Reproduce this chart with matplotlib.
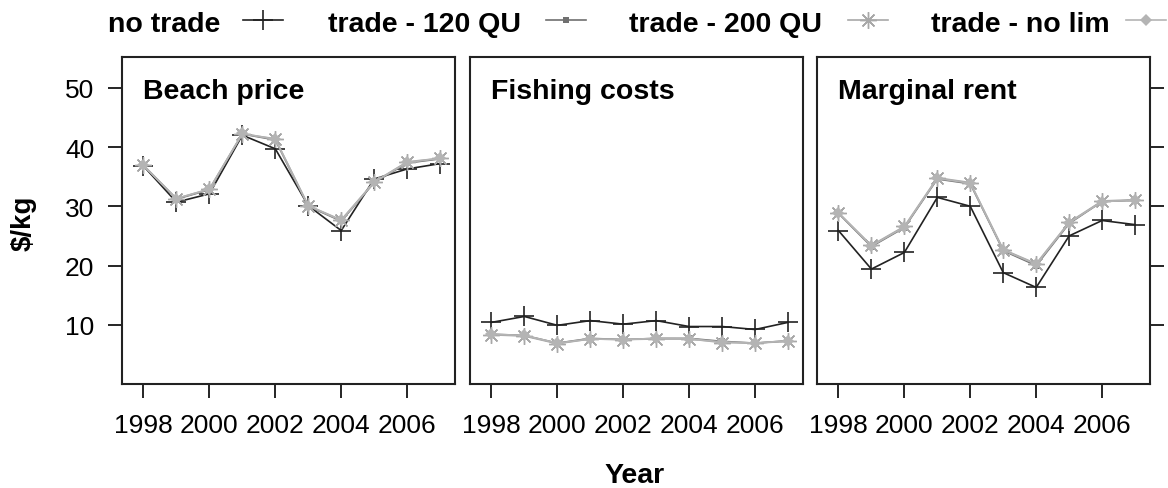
import matplotlib
matplotlib.use("Agg")
import matplotlib.pyplot as plt
from matplotlib.lines import Line2D

years = list(range(1998, 2008))

panels = ["Beach price", "Fishing costs", "Marginal rent"]
series_names = ["no trade", "trade - 120 QU", "trade - 200 QU", "trade - no lim"]

# Beach price
beach_no_trade = [36.8, 30.7, 32.1, 42.0, 39.7, 30.1, 25.9, 34.6, 36.3, 37.2]
beach_120 = [36.9, 31.2, 32.8, 42.2, 41.2, 30.0, 27.5, 34.0, 37.3, 38.0]
beach_200 = [36.9, 31.3, 32.9, 42.2, 41.4, 30.1, 27.7, 34.1, 37.5, 38.1]
beach_nolim = [36.9, 31.3, 32.9, 42.3, 41.3, 30.1, 27.6, 34.1, 37.4, 38.1]

# Fishing costs
cost_no_trade = [10.4, 11.4, 9.9, 10.7, 10.1, 10.7, 9.7, 9.7, 9.2, 10.4]
cost_120 = [8.4, 8.2, 6.9, 7.7, 7.5, 7.7, 7.7, 7.2, 6.9, 7.3]
cost_200 = [8.3, 8.1, 6.8, 7.6, 7.5, 7.6, 7.6, 7.0, 6.9, 7.2]
cost_nolim = [8.4, 8.2, 6.9, 7.6, 7.5, 7.7, 7.6, 7.1, 6.9, 7.3]

# Marginal rent
rent_no_trade = [25.9, 19.4, 22.2, 31.5, 30.0, 18.8, 16.3, 25.0, 27.6, 26.9]
rent_120 = [28.8, 23.2, 26.4, 34.6, 33.8, 22.5, 20.0, 27.1, 30.8, 31.0]
rent_200 = [28.9, 23.4, 26.6, 34.8, 34.0, 22.7, 20.3, 27.3, 30.9, 31.1]
rent_nolim = [28.9, 23.3, 26.5, 34.7, 33.9, 22.6, 20.2, 27.2, 30.8, 31.0]

data = [
    [beach_no_trade, beach_120, beach_200, beach_nolim],
    [cost_no_trade, cost_120, cost_200, cost_nolim],
    [rent_no_trade, rent_120, rent_200, rent_nolim],
]

yticks = [10, 20, 30, 40, 50]
xticks = [1998, 2000, 2002, 2004, 2006]

styles = [
    dict(color="#222222", marker="+", ms=14, mew=1.2, lw=1.2),
    dict(color="#707070", marker="s", ms=5, mew=0, lw=1.2),
    dict(color="#a8a8a8", marker=(8, 2, 0), ms=12, mew=1.0, lw=1.2),
    dict(color="#b4b4b4", marker="D", ms=6, mew=0, lw=1.2),
]

plt.rcParams['font.family'] = ['Liberation Sans', 'DejaVu Sans']

W, H = 1168, 489
fig = plt.figure(figsize=(W / 100, H / 100), dpi=100)
lefts = [0.1045, 0.4024, 0.6995]
for k, name in enumerate(panels):
    ax = fig.add_axes([lefts[k], 0.2127, 0.285, 0.6687])
    for s, vals in enumerate(data[k]):
        ax.plot(years, vals, **styles[s])
    ax.set_xlim(1997.35, 2007.45)
    ax.set_ylim(0, 55.2)
    ax.set_xticks(xticks)
    ax.set_yticks(yticks)
    ax.tick_params(direction="out", length=10, width=1.2, labelsize=19)
    ax.tick_params(axis="x", pad=11)
    ax.tick_params(axis="y", pad=10)
    if k == 0:
        ax.tick_params(axis="y", left=True, labelleft=True, right=False)
    elif k == 2:
        ax.yaxis.tick_right()
        ax.tick_params(axis="y", labelright=False)
    else:
        ax.tick_params(axis="y", left=False, labelleft=False)
    for sp in ax.spines.values():
        sp.set_linewidth(1.5)
        sp.set_color("#222222")
    ax.text(0.063, 0.935, name, transform=ax.transAxes, fontsize=20.5, fontweight="bold",
            va="top", ha="left")

# legend on top: text first, then line + marker
leg_text_x = [108, 328, 629, 931]
leg_mark_x = [263, 566, 868, 1146]
for s, name in enumerate(series_names):
    fig.text(leg_text_x[s] / W, 1 - 25 / H, name, fontsize=20.5, fontweight="bold",
             ha="left", va="center")
    xc = leg_mark_x[s] / W
    half = 20 / W
    ly = 1 - 21 / H
    fig.add_artist(Line2D([xc - half, xc, xc + half], [ly, ly, ly],
                          transform=fig.transFigure, markevery=[1], **styles[s]))

fig.text(24 / W, 1 - 223 / H, r"\$/kg", rotation=90, fontsize=20, fontweight="bold", ha="center", va="center")
fig.text(635 / W, 1 - 476 / H, "Year", fontsize=20.5, fontweight="bold", ha="center", va="center")

fig.savefig("out.png", dpi=100)
